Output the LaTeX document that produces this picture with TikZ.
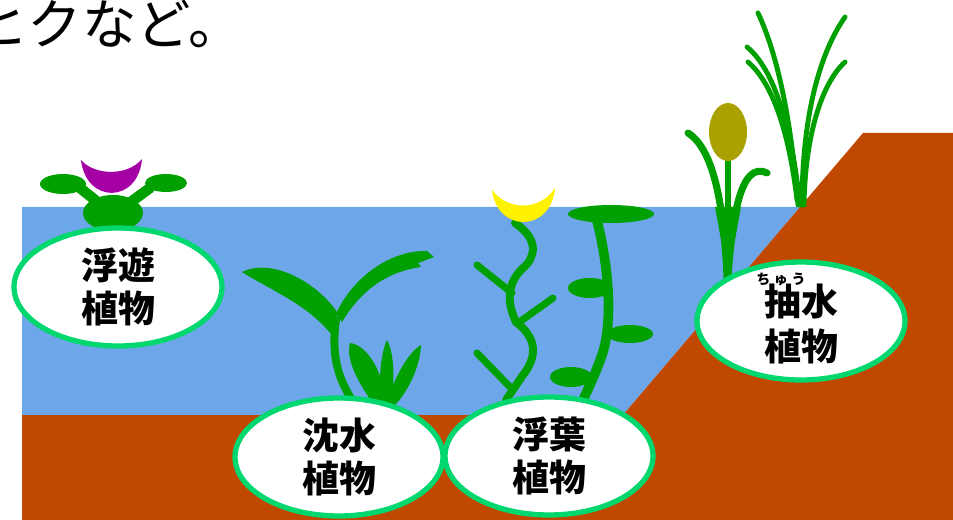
\documentclass[tikz,border=0pt]{standalone}
\usepackage{fontspec}
\newfontfamily\jp{Noto Sans CJK JP}
\usetikzlibrary{shapes.geometric}

\definecolor{water}{RGB}{110,166,234}
\definecolor{soil}{RGB}{192,72,0}
\definecolor{leaf}{RGB}{0,160,0}
\definecolor{rim}{RGB}{0,215,110}
\definecolor{petal}{RGB}{165,0,165}
\definecolor{cattail}{RGB}{170,160,0}

\tikzset{
  plantname/.style={ellipse, draw=rim, line width=3pt, fill=white,
    minimum width=4.16cm, minimum height=2.36cm, inner sep=0pt,
    align=center, font=\jp\bfseries\fontsize{21}{24.5}\selectfont},
  stem/.style={draw=leaf, line width=4.5pt, line cap=round},
  blade/.style={draw=leaf, line width=2.8pt, line cap=round}
}

\begin{document}
\begin{tikzpicture}[x=0.02cm, y=-0.02cm]
  \useasboundingbox (0,0) rectangle (953,520);
  % pond and bank
  \fill[water] (22,207) -- (800,207) -- (623,415) -- (22,415) -- cycle;
  \fill[soil] (22,415) -- (623,415) -- (863,133) -- (953,133) -- (953,520) -- (22,520) -- cycle;

  \node[anchor=west, inner sep=0pt, font=\jp\fontsize{31}{31}\selectfont] (note) at (-27,24) {ヒクなど。};

  % floating plant
  \fill[leaf] (113,213) ellipse [x radius=30, y radius=18];
  \fill[leaf] (63,184) ellipse [x radius=23, y radius=10];
  \fill[leaf] (166,183) ellipse [x radius=21, y radius=9];
  \draw[stem, line width=6pt] (80,188) -- (100,204);
  \draw[stem, line width=6pt] (150,188) -- (128,204);
  \fill[petal] (81,160) .. controls (86,204) and (138,204) .. (142,159)
    .. controls (128,176) and (95,176) .. cycle;

  % submerged plant
  \draw[stem] (336,320) .. controls (331,355) and (338,378) .. (352,400);
  \fill[leaf] (242,272) .. controls (270,258) and (315,280) .. (337,312)
    -- (334,338) .. controls (310,305) and (270,290) .. cycle;
  \fill[leaf] (336,314) .. controls (352,278) and (390,250) .. (427,251)
    -- (434,257) -- (418,263) -- (421,267)
    .. controls (385,272) and (360,292) .. (342,322) -- cycle;
  \fill[leaf] (350,343) .. controls (368,345) and (385,375) .. (384,402)
    -- (372,402) .. controls (360,385) and (345,360) .. cycle;
  \fill[leaf] (387,340) .. controls (395,355) and (395,385) .. (390,405)
    -- (382,405) .. controls (378,385) and (380,355) .. cycle;
  \fill[leaf] (421,345) .. controls (420,370) and (405,395) .. (395,405)
    -- (385,403) .. controls (395,380) and (405,355) .. cycle;

  % floating-leaf plants
  \draw[stem] (515,223) .. controls (540,240) and (535,258) .. (523,268)
    .. controls (505,285) and (508,305) .. (516,322)
    .. controls (540,340) and (535,360) .. (523,375) -- (506,400);
  \draw[stem, line width=4pt] (477,265) -- (512,293);
  \draw[stem, line width=4pt] (553,298) -- (518,323);
  \draw[stem, line width=4pt] (477,353) -- (510,387);
  \fill[yellow] (492,190) .. controls (497,233) and (551,233) .. (555,188)
    .. controls (540,211) and (508,211) .. cycle;
  \draw[stem, line width=5.5pt] (595,213) .. controls (608,260) and (614,320) .. (602,355)
    .. controls (596,372) and (590,385) .. (583,400);
  \fill[leaf] (611,214) ellipse [x radius=43, y radius=9];
  \fill[leaf] (590,288) ellipse [x radius=22, y radius=10];
  \fill[leaf] (630,334) ellipse [x radius=23, y radius=9];
  \fill[leaf] (571,377) ellipse [x radius=21, y radius=10];

  % emergent plants
  \draw[stem, line width=4pt] (727,277) .. controls (724,210) and (715,150) .. (688,133);
  \draw[stem, line width=4pt] (728,277) .. controls (732,220) and (740,160) .. (767,173);
  \draw[stem, line width=3.5pt] (728,160) -- (728,277);
  \fill[leaf] (715,207) -- (741,207) -- (728,278) -- cycle;
  \fill[cattail] (728,132) ellipse [x radius=19, y radius=29];
  \draw[blade] (798,205) .. controls (792,130) and (780,60) .. (758,13);
  \draw[blade] (800,205) .. controls (792,130) and (775,70) .. (747,47);
  \draw[blade] (797,200) .. controls (790,140) and (775,85) .. (748,62);
  \draw[blade] (802,205) .. controls (802,130) and (815,60) .. (845,17);
  \draw[blade] (804,205) .. controls (805,140) and (820,85) .. (845,62);

  % names
  \node[plantname] (floating) at (118,287) {浮遊\\植物};
  \node[plantname] (submerged) at (339,457) {沈水\\植物};
  \node[plantname] (floatleaf) at (549,456) {浮葉\\植物};
  \node[plantname] (emergent) at (801,321)
    {\raisebox{-9.5pt}[20pt][20pt]{\begin{tabular}{@{}c@{}}抽水\\植物\end{tabular}}};
  \node[inner sep=0pt, font=\jp\bfseries\fontsize{8}{8}\selectfont] (ruby) at (781,279) {ち\hspace{2pt}ゅ\hspace{2pt}う};
\end{tikzpicture}
\end{document}
